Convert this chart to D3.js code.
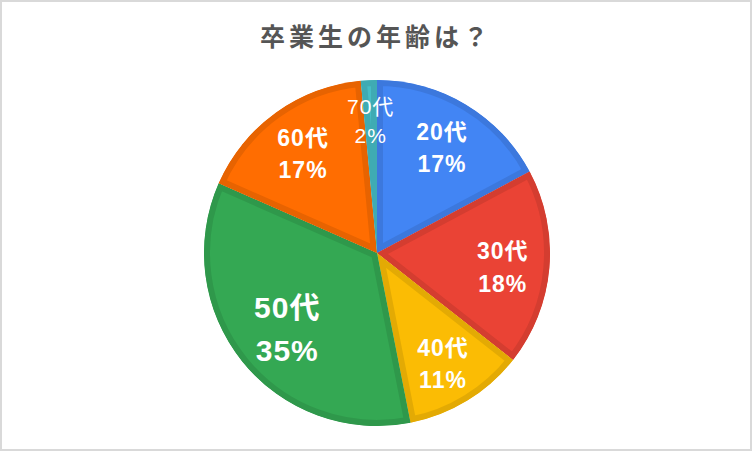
<!DOCTYPE html>
<html>
<head>
<meta charset="utf-8">
<script src="https://cdnjs.cloudflare.com/ajax/libs/d3/7.8.5/d3.min.js"></script>
<style>
  html, body { margin: 0; padding: 0; background: #fff; }
  #chart { width: 752px; height: 451px; }
</style>
</head>
<body>
<div id="chart"></div>
<script>
(function(){
    var width = 752;
    var height = 451;

    // data
    var titleText = "卒業生の年齢は？";
    var ageGroups = ["20代", "30代", "40代", "50代", "60代", "70代"];
    var shares = [17.2, 18.4, 11.3, 34.7, 16.9, 1.5];
    var sliceColors = ["#4285F4", "#EA4335", "#FBBC04", "#34A853", "#FF6D01", "#46BDC6"];

    var cx = 377, cy = 253, radius = 173;

    var svg = d3.select("#chart")
        .append("svg")
        .attr("width", width)
        .attr("height", height);

    // frame
    svg.append("rect")
        .attr("x", 1).attr("y", 1)
        .attr("width", width - 2).attr("height", height - 2)
        .attr("fill", "#fff")
        .attr("stroke", "#d9d9d9")
        .attr("stroke-width", 2);

    svg.append("text")
        .attr("x", 376)
        .attr("y", 46)
        .attr("text-anchor", "middle")
        .attr("font-family", "'Noto Sans CJK JP', 'Noto Sans', sans-serif")
        .attr("font-size", 25)
        .attr("font-weight", "bold")
        .attr("letter-spacing", "4px")
        .attr("fill", "#555")
        .text(titleText);

    var data = ageGroups.map(function(g, i){
        return {group: g, value: shares[i], color: sliceColors[i]};
    });
    var total = d3.sum(shares);

    var pie = d3.pie()
        .sort(null)
        .value(function(d){ return d.value; });

    var arc = d3.arc().innerRadius(0).outerRadius(radius);

    var g = svg.append("g")
        .attr("transform", "translate(" + cx + "," + cy + ")");

    var arcs = pie(data);
    var defs = svg.append("defs");

    defs.selectAll("clipPath")
        .data(arcs)
        .enter().append("clipPath")
        .attr("id", function(d, i){ return "slice-" + i; })
        .append("path")
        .attr("d", arc);

    var slices = g.selectAll(".slice")
        .data(arcs)
        .enter().append("g")
        .attr("class", "slice");

    // darker inner rim on every slice
    slices.append("path")
        .attr("d", arc)
        .attr("fill", function(d){ return d.data.color; })
        .attr("stroke", function(d){ return d3.color(d.data.color).darker(0.28); })
        .attr("stroke-width", 12)
        .attr("stroke-linejoin", "miter")
        .attr("clip-path", function(d, i){ return "url(#slice-" + i + ")"; });

    var labels = g.selectAll(".label")
        .data(arcs)
        .enter().append("text")
        .attr("class", "label")
        .attr("text-anchor", "middle")
        .attr("fill", "#fff")
        .attr("font-family", "'Liberation Sans', Arial, 'Noto Sans CJK JP', sans-serif")
        .attr("font-weight", function(d){ return d.data.value < 5 ? "normal" : "bold"; })
        .attr("letter-spacing", "1px")
        .attr("font-size", function(d){
            if (d.data.value > 30) return 30;
            if (d.data.value < 5) return 21;
            return 23;
        })
        .attr("transform", function(d){
            var k = d.data.value > 30 ? 0.665 : (d.data.value < 5 ? 0.78 : 0.73);
            var c = d3.arc().innerRadius(0).outerRadius(radius * k * 2).centroid(d);
            return "translate(" + c[0] + "," + c[1] + ")";
        });

    labels.append("tspan")
        .attr("x", 0)
        .attr("dy", "-0.22em")
        .text(function(d){ return d.data.group; });

    labels.append("tspan")
        .attr("x", 0)
        .attr("dy", "1.42em")
        .text(function(d){ return Math.round(d.data.value / total * 100) + "%"; });
})();
</script>
</body>
</html>
